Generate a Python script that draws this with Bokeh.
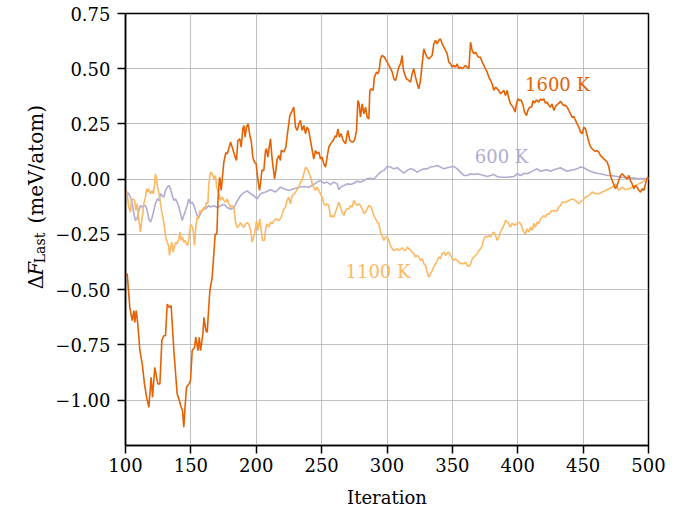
from bokeh.plotting import figure
from bokeh.models import Range1d, FixedTicker, Label
from bokeh.layouts import row
from bokeh.core.properties import value
from bokeh.embed import file_html
from bokeh.resources import INLINE
import math

# ---------------- data ----------------
it_1600 = [100.0, 101.3, 103.3, 105.1, 106.4, 107.1, 108.2, 109.4, 111.0, 112.8, 114.5, 116.1, 117.9, 119.6,
           120.7, 122.4, 124.7, 126.3, 127.8, 129.3, 130.6, 131.9, 133.4, 134.9, 137.0, 139.5, 141.1, 142.6,
           143.6, 144.6, 145.7, 146.7, 148.5, 149.7, 151.0, 152.8, 153.8, 155.4, 156.4, 157.4, 159.2, 160.0,
           161.5, 162.5, 163.5, 164.5, 166.3, 168.6, 169.9, 170.7, 171.7, 172.1, 173.2, 175.2, 176.7, 177.8,
           179.0, 180.3, 181.6, 182.9, 183.9, 184.9, 185.9, 187.4, 188.5, 189.7, 190.5, 191.5, 192.5, 193.8,
           195.1, 196.1, 197.4, 198.7, 199.9, 200.7, 201.7, 202.5, 203.2, 204.3, 205.8, 207.1, 207.8, 208.9,
           209.9, 210.9, 211.9, 212.9, 214.0, 215.0, 216.0, 217.3, 218.5, 219.1, 221.1, 222.6, 224.2, 225.7,
           227.5, 228.7, 230.0, 231.3, 232.6, 233.8, 235.1, 236.4, 237.7, 238.9, 240.2, 241.5, 242.8, 244.0,
           245.3, 246.6, 247.9, 249.1, 250.4, 251.7, 253.0, 254.2, 255.5, 256.8, 258.8, 260.6, 261.4, 262.4,
           263.7, 264.9, 266.5, 268.3, 270.0, 271.6, 273.4, 275.1, 276.7, 277.7, 278.7, 279.7, 281.0, 282.3,
           283.6, 284.8, 286.1, 286.9, 287.9, 289.4, 290.4, 292.0, 293.0, 294.0, 295.0, 296.3, 298.1, 300.1,
           302.2, 304.0, 305.2, 306.5, 307.8, 309.0, 310.3, 311.6, 312.4, 313.4, 314.9, 316.7, 318.0, 319.2,
           320.5, 321.8, 323.1, 324.3, 325.6, 326.9, 328.2, 329.4, 330.7, 332.0, 333.3, 334.5, 335.8, 337.1,
           338.4, 339.6, 340.9, 342.2, 343.5, 344.7, 346.0, 347.3, 348.6, 349.8, 351.1, 352.4, 353.7, 354.9,
           356.2, 357.5, 358.8, 360.0, 361.3, 362.6, 363.9, 365.1, 366.4, 367.7, 369.0, 370.2, 371.5, 372.8,
           374.1, 375.3, 376.6, 377.9, 379.2, 380.4, 381.7, 383.0, 384.3, 385.5, 386.8, 388.1, 389.4, 390.6,
           391.9, 393.2, 394.5, 396.5, 398.0, 399.0, 400.1, 401.6, 402.6, 404.1, 405.2, 406.7, 407.7, 409.2,
           410.5, 411.8, 412.8, 414.3, 416.1, 417.4, 418.7, 419.9, 421.2, 422.5, 423.8, 425.0, 426.3, 427.6,
           428.9, 430.1, 431.4, 432.7, 434.0, 435.2, 436.5, 437.8, 439.1, 440.3, 441.6, 442.9, 444.2, 445.4,
           446.7, 448.0, 449.3, 450.5, 451.8, 453.1, 454.4, 455.6, 456.9, 458.2, 459.5, 460.7, 462.0, 463.3,
           464.6, 465.8, 467.1, 468.4, 469.7, 470.9, 472.2, 473.5, 474.8, 476.0, 477.3, 478.6, 479.9, 481.1,
           482.4, 483.7, 485.0, 486.2, 487.5, 488.8, 490.1, 491.3, 492.6, 493.9, 495.2, 496.4, 497.7, 499.0,
           500.0]
dF_1600 = [-0.43, -0.429, -0.58, -0.64, -0.595, -0.648, -0.595, -0.655, -0.776, -0.836, -0.926, -0.986, -1.032, -0.896,
           -0.986, -0.851, -0.926, -0.926, -0.73, -0.708, -0.708, -0.565, -0.58, -0.572, -0.776, -0.971, -1.0, -1.032,
           -1.047, -1.122, -1.017, -0.941, -0.926, -0.911, -0.776, -0.76, -0.715, -0.776, -0.715, -0.776, -0.7, -0.625,
           -0.685, -0.693, -0.595, -0.505, -0.444, -0.248, -0.248, -0.098, -0.008, 0.009, -0.051, 0.077, 0.12, 0.115,
           0.138, 0.168, 0.145, 0.12, 0.1, 0.085, 0.175, 0.183, 0.145, 0.228, 0.243, 0.19, 0.236, 0.251,
           0.198, 0.175, 0.1, 0.077, 0.07, 0.025, -0.021, -0.051, -0.021, 0.04, 0.04, 0.13, 0.138, 0.1,
           0.145, 0.183, 0.107, 0.055, 0.002, 0.04, 0.092, 0.107, 0.085, 0.13, 0.123, 0.145, 0.221, 0.288,
           0.311, 0.326, 0.236, 0.221, 0.251, 0.266, 0.221, 0.243, 0.206, 0.236, 0.221, 0.175, 0.13, 0.092,
           0.13, 0.115, 0.123, 0.092, 0.1, 0.07, 0.055, 0.1, 0.145, 0.16, 0.175, 0.198, 0.19, 0.228,
           0.19, 0.206, 0.175, 0.16, 0.221, 0.175, 0.168, 0.175, 0.221, 0.356, 0.341, 0.281, 0.341, 0.296,
           0.326, 0.281, 0.273, 0.402, 0.409, 0.402, 0.462, 0.485, 0.477, 0.492, 0.545, 0.56, 0.552, 0.53,
           0.507, 0.485, 0.454, 0.447, 0.477, 0.507, 0.522, 0.56, 0.5, 0.477, 0.454, 0.447, 0.439, 0.477,
           0.5, 0.462, 0.432, 0.409, 0.447, 0.522, 0.59, 0.568, 0.552, 0.545, 0.552, 0.56, 0.613, 0.628,
           0.613, 0.628, 0.635, 0.613, 0.598, 0.583, 0.568, 0.53, 0.522, 0.507, 0.515, 0.507, 0.522, 0.5,
           0.507, 0.5, 0.507, 0.515, 0.507, 0.5, 0.62, 0.583, 0.568, 0.575, 0.56, 0.552, 0.552, 0.53,
           0.515, 0.5, 0.485, 0.462, 0.447, 0.432, 0.402, 0.417, 0.409, 0.402, 0.387, 0.394, 0.402, 0.379,
           0.402, 0.364, 0.341, 0.326, 0.304, 0.341, 0.364, 0.356, 0.359, 0.334, 0.304, 0.288, 0.311, 0.326,
           0.326, 0.356, 0.344, 0.359, 0.349, 0.364, 0.356, 0.364, 0.344, 0.349, 0.334, 0.326, 0.341, 0.311,
           0.329, 0.338, 0.344, 0.353, 0.341, 0.334, 0.334, 0.326, 0.311, 0.296, 0.281, 0.284, 0.266, 0.251,
           0.236, 0.213, 0.206, 0.236, 0.228, 0.198, 0.168, 0.148, 0.138, 0.130, 0.127, 0.130, 0.123, 0.107,
           0.100, 0.092, 0.085, 0.077, 0.055, 0.017, -0.006, -0.024, -0.043, -0.028, -0.006, 0.017, 0.025, 0.017,
           0.009, 0.002, 0.017, -0.006, -0.021, -0.043, -0.028, -0.036, -0.051, -0.058, -0.043, -0.051, -0.021, 0.006,
           0.01]

it_1100 = [100.0, 101.3, 102.5, 103.8, 104.6, 105.9, 106.9, 107.9, 108.9, 110.2, 111.5, 112.2, 113.3, 114.0,
           115.3, 116.1, 117.1, 117.8, 119.1, 120.4, 121.2, 122.2, 122.9, 123.7, 124.7, 125.7, 126.8, 127.8,
           128.8, 129.8, 130.8, 131.9, 132.9, 133.7, 134.4, 135.4, 136.5, 137.5, 138.5, 139.5, 140.8, 141.6,
           142.6, 143.6, 144.6, 145.6, 146.7, 147.7, 148.7, 149.7, 150.7, 151.8, 152.8, 153.8, 154.8, 155.8,
           156.9, 157.9, 158.9, 159.9, 160.9, 161.9, 163.0, 163.7, 165.0, 166.3, 167.6, 168.9, 169.7, 171.4,
           172.7, 174.0, 175.2, 176.5, 177.8, 179.0, 180.3, 181.6, 182.9, 184.2, 185.5, 186.7, 188.0, 189.3,
           190.6, 192.6, 194.4, 195.7, 196.9, 198.7, 200.2, 201.2, 202.7, 203.8, 204.8, 206.3, 207.3, 208.3,
           209.6, 210.9, 212.2, 213.4, 215.5, 217.3, 219.1, 220.6, 222.4, 223.6, 224.9, 226.2, 227.5, 229.3,
           230.8, 232.6, 233.8, 235.1, 236.4, 237.7, 238.9, 240.2, 241.5, 242.8, 244.0, 245.3, 246.6, 247.9,
           249.1, 250.4, 251.7, 253.0, 254.2, 255.5, 256.8, 258.1, 259.3, 260.6, 261.9, 263.2, 264.4, 265.7,
           267.0, 268.3, 269.5, 270.8, 272.1, 273.4, 274.6, 275.9, 277.2, 278.5, 279.7, 281.0, 282.3, 283.6,
           284.8, 286.1, 287.4, 288.7, 289.9, 291.2, 292.5, 293.8, 295.0, 296.3, 297.6, 298.9, 300.1, 301.4,
           302.7, 304.0, 305.2, 306.5, 307.8, 309.1, 310.3, 311.6, 312.9, 314.2, 315.4, 316.7, 318.0, 319.3,
           320.5, 321.8, 323.1, 324.4, 325.6, 326.9, 328.2, 329.5, 330.7, 332.0, 333.3, 334.6, 335.8, 337.1,
           338.4, 339.7, 340.9, 342.2, 343.5, 344.8, 346.0, 347.3, 348.6, 349.9, 351.1, 352.4, 353.7, 355.0,
           356.2, 357.5, 358.8, 360.1, 361.3, 362.6, 363.9, 365.2, 366.4, 367.7, 369.0, 370.3, 371.5, 372.8,
           374.1, 375.4, 376.6, 377.9, 379.2, 380.5, 381.7, 383.0, 384.3, 385.6, 386.8, 388.1, 389.4, 390.6,
           392.6, 394.4, 395.7, 397.7, 399.5, 401.3, 402.8, 404.6, 405.9, 407.2, 408.4, 409.7, 411.0, 412.3,
           413.5, 414.8, 416.1, 417.4, 418.6, 419.9, 421.2, 422.5, 423.7, 425.0, 426.3, 427.6, 428.8, 430.1,
           431.4, 432.7, 434.0, 435.2, 436.5, 439.1, 441.6, 444.2, 446.7, 449.3, 451.8, 454.4, 456.9, 459.5,
           462.0, 464.6, 467.1, 469.7, 472.2, 474.8, 477.3, 479.9, 482.4, 485.0, 487.5, 490.1, 492.6, 495.2,
           497.7, 500.0]
dF_1100 = [-0.05, -0.066, -0.126, -0.149, -0.096, -0.089, -0.096, -0.141, -0.111, -0.187, -0.239, -0.194, -0.149, -0.111,
           -0.081, -0.043, -0.058, -0.043, -0.066, -0.051, -0.066, -0.028, 0.025, 0.0, -0.043, -0.066, -0.111, -0.149,
           -0.179, -0.217, -0.262, -0.285, -0.3, -0.345, -0.315, -0.285, -0.33, -0.3, -0.285, -0.292, -0.27, -0.239,
           -0.277, -0.262, -0.285, -0.277, -0.292, -0.3, -0.255, -0.209, -0.209, -0.232, -0.3, -0.217, -0.172, -0.179,
           -0.141, -0.149, -0.141, -0.126, -0.134, -0.104, -0.111, -0.021, 0.032, 0.025, 0.002, 0.017, -0.036, -0.066,
           -0.096, -0.081, -0.096, -0.104, -0.089, -0.111, -0.126, -0.119, -0.129, -0.196, -0.218, -0.211, -0.196, -0.211,
           -0.218, -0.196, -0.203, -0.232, -0.285, -0.247, -0.187, -0.232, -0.179, -0.232, -0.277, -0.277, -0.217, -0.202,
           -0.217, -0.194, -0.202, -0.187, -0.179, -0.187, -0.172, -0.141, -0.126, -0.096, -0.081, -0.111, -0.074, -0.066,
           -0.051, -0.036, -0.013, -0.006, 0.025, 0.055, 0.047, 0.032, 0.009, -0.021, -0.036, -0.051, -0.036, -0.051,
           -0.066, -0.081, -0.111, -0.119, -0.111, -0.119, -0.172, -0.164, -0.172, -0.149, -0.126, -0.104, -0.126, -0.149,
           -0.164, -0.141, -0.134, -0.134, -0.119, -0.126, -0.096, -0.111, -0.119, -0.111, -0.119, -0.134, -0.156, -0.149,
           -0.134, -0.119, -0.122, -0.141, -0.164, -0.179, -0.194, -0.202, -0.239, -0.255, -0.277, -0.262, -0.259, -0.277,
           -0.3, -0.315, -0.322, -0.319, -0.315, -0.322, -0.319, -0.31, -0.319, -0.322, -0.307, -0.315, -0.319, -0.33,
           -0.337, -0.352, -0.345, -0.352, -0.368, -0.36, -0.383, -0.39, -0.42, -0.443, -0.428, -0.413, -0.398, -0.383,
           -0.368, -0.352, -0.36, -0.337, -0.33, -0.345, -0.335, -0.33, -0.345, -0.36, -0.368, -0.36, -0.368, -0.375,
           -0.383, -0.38, -0.383, -0.375, -0.39, -0.395, -0.383, -0.36, -0.352, -0.345, -0.337, -0.322, -0.315, -0.3,
           -0.27, -0.259, -0.262, -0.255, -0.262, -0.247, -0.239, -0.255, -0.277, -0.262, -0.239, -0.224, -0.209, -0.187,
           -0.194, -0.217, -0.2, -0.209, -0.2, -0.194, -0.209, -0.24, -0.247, -0.224, -0.24, -0.217, -0.232, -0.2,
           -0.217, -0.194, -0.2, -0.179, -0.172, -0.164, -0.172, -0.156, -0.16, -0.149, -0.141, -0.145, -0.141, -0.145,
           -0.125, -0.119, -0.104, -0.104, -0.104, -0.096, -0.089, -0.096, -0.111, -0.096, -0.081, -0.074, -0.058, -0.066,
           -0.066, -0.058, -0.051, -0.043, -0.036, -0.021, -0.051, -0.036, -0.048, -0.043, -0.036, -0.028, -0.021, -0.013,
           -0.003, 0.005]

it_600 = [100.0, 101.3, 102.5, 103.8, 105.1, 106.4, 107.6, 108.9, 110.2, 111.5, 112.7, 114.0, 115.3, 116.6,
          117.8, 119.1, 120.4, 121.7, 122.9, 124.2, 125.5, 126.8, 128.0, 129.3, 130.6, 131.9, 133.1, 134.4,
          135.7, 137.0, 138.2, 139.5, 140.8, 142.1, 143.3, 144.6, 145.9, 147.2, 148.4, 149.7, 151.0, 152.3,
          153.5, 154.8, 156.1, 157.4, 158.6, 159.9, 161.2, 162.5, 163.7, 165.0, 167.6, 170.2, 172.7, 175.3,
          177.8, 180.4, 182.9, 185.5, 188.0, 190.6, 193.1, 195.7, 198.1, 200.7, 203.2, 207.1, 210.9, 214.7,
          218.5, 221.1, 224.9, 228.7, 232.6, 236.4, 240.2, 244.0, 246.6, 249.1, 251.7, 254.2, 256.8, 259.4,
          261.9, 263.2, 264.5, 267.0, 269.6, 272.1, 274.7, 277.2, 279.8, 282.3, 284.9, 287.4, 289.9, 292.5,
          295.0, 297.6, 300.1, 302.7, 305.2, 307.8, 310.3, 312.9, 315.4, 318.0, 320.5, 323.1, 325.6, 328.2,
          330.7, 333.3, 335.8, 338.4, 340.9, 343.5, 346.0, 348.6, 351.1, 353.7, 356.2, 358.8, 361.3, 363.9,
          366.4, 369.0, 371.5, 374.1, 376.6, 379.2, 381.7, 384.3, 386.8, 389.4, 391.9, 397.0, 399.6, 402.1,
          404.7, 407.2, 409.7, 412.3, 414.8, 417.4, 419.9, 422.5, 425.0, 427.6, 430.1, 432.7, 435.2, 437.8,
          440.3, 442.9, 445.4, 448.0, 450.5, 453.1, 455.6, 458.2, 460.7, 463.3, 465.8, 468.4, 470.9, 473.5,
          476.0, 478.6, 481.1, 483.7, 486.2, 488.8, 491.3, 493.9, 498.5, 500.0]
dF_600 = [-0.06, -0.058, -0.066, -0.081, -0.111, -0.156, -0.187, -0.179, -0.141, -0.119, -0.126, -0.119, -0.119, -0.141,
          -0.179, -0.194, -0.172, -0.141, -0.111, -0.089, -0.096, -0.066, -0.074, -0.081, -0.051, -0.036, -0.028, -0.043,
          -0.074, -0.096, -0.089, -0.104, -0.126, -0.156, -0.187, -0.164, -0.141, -0.119, -0.089, -0.111, -0.104, -0.119,
          -0.141, -0.164, -0.172, -0.156, -0.141, -0.134, -0.134, -0.126, -0.119, -0.126, -0.12, -0.128, -0.12, -0.113,
          -0.128, -0.136, -0.128, -0.098, -0.075, -0.06, -0.053, -0.066, -0.074, -0.089, -0.066, -0.058, -0.048, -0.058,
          -0.036, -0.043, -0.051, -0.043, -0.036, -0.033, -0.036, -0.024, -0.013, -0.006, -0.018, -0.013, -0.024, -0.013,
          -0.021, -0.048, -0.036, -0.028, -0.021, -0.024, -0.018, -0.009, -0.013, -0.006, 0.002, 0.004, 0.0, 0.017,
          0.032, 0.04, 0.058, 0.055, 0.047, 0.052, 0.04, 0.028, 0.04, 0.047, 0.043, 0.032, 0.04, 0.047,
          0.047, 0.055, 0.058, 0.062, 0.055, 0.047, 0.052, 0.055, 0.058, 0.047, 0.032, 0.017, 0.017, 0.025,
          0.021, 0.025, 0.021, 0.017, 0.012, 0.017, 0.021, 0.012, 0.009, 0.009, 0.009, 0.012, 0.025, 0.017,
          0.027, 0.025, 0.032, 0.040, 0.047, 0.036, 0.040, 0.043, 0.036, 0.043, 0.047, 0.052, 0.043, 0.036,
          0.040, 0.043, 0.047, 0.055, 0.052, 0.043, 0.036, 0.030, 0.027, 0.025, 0.021, 0.017, 0.017, 0.015,
          0.012, 0.009, 0.009, 0.006, 0.006, 0.005, 0.003, 0.003, 0.002, 0.0]

series_names = ["600 K", "1100 K", "1600 K"]
series_colors = ["#b2abd2", "#fdb863", "#e66101"]

x_ticks = [100, 150, 200, 250, 300, 350, 400, 450, 500]
y_ticks = [-1.0, -0.75, -0.5, -0.25, 0.0, 0.25, 0.5, 0.75]
y_tick_labels = ["\u22121.00", "\u22120.75", "\u22120.50", "\u22120.25", "0.00", "0.25", "0.50", "0.75"]

# y-axis title, split into its typographic pieces
ylab_texts = ["\u0394", "F", "Last", "(meV/atom)"]
ylab_styles = ["normal", "italic", "normal", "normal"]
ylab_sizes = [20, 20, 14, 20]

# label anchor points (data coords) for the inline series names
label_it = [387.6, 293.1, 430.4]
label_dF = [0.102, -0.417, 0.429]

X0, X1, Y0, Y1 = 100, 500, -1.205, 0.75
FONT = "DejaVu Serif"
FS = "18px"
W, H = 684, 513
LW = 52                      # width of the strip that carries the y title
BL, BR, BT, BB = 125 - LW, 36, 13, 68

p = figure(width=W - LW, height=H, output_backend="svg", toolbar_location=None,
           x_range=Range1d(X0, X1), y_range=Range1d(Y0, Y1),
           min_border_left=BL, min_border_right=BR, min_border_top=BT, min_border_bottom=BB,
           background_fill_color="white", border_fill_color="white")

p.outline_line_color = "black"
p.outline_line_width = 1.5
p.outline_line_alpha = 1.0

for ax in (p.xaxis[0], p.yaxis[0]):
    ax.axis_line_width = 1.5
    ax.major_tick_line_width = 1.5
    ax.major_tick_in = 0
    ax.major_tick_out = 8
    ax.minor_tick_line_color = None
    ax.major_label_text_font = FONT
    ax.major_label_text_font_size = FS
    ax.major_label_text_color = "black"
    ax.axis_label_text_font = FONT
    ax.axis_label_text_font_size = FS
    ax.axis_label_text_font_style = "normal"
    ax.axis_label_text_color = "black"

p.xaxis.ticker = FixedTicker(ticks=x_ticks)
p.yaxis.ticker = FixedTicker(ticks=y_ticks)
p.yaxis.major_label_overrides = {t: l for t, l in zip(y_ticks, y_tick_labels)}
p.xaxis.major_label_standoff = 4
p.yaxis.major_label_standoff = 7
p.xaxis.axis_label = "Iteration"
p.xaxis.axis_label_standoff = 12

p.grid.grid_line_color = "#b0b0b0"
p.grid.grid_line_width = 1
p.grid.grid_line_alpha = 0.8

xs = [it_600, it_1100, it_1600]
ys = [dF_600, dF_1100, dF_1600]
for x, y, c in zip(xs, ys, series_colors):
    p.line(x, y, line_color=c, line_width=1.6)

for name, c, lx, ly in zip(series_names, series_colors, label_it, label_dF):
    p.add_layout(Label(x=lx, y=ly, text=name, text_color=c, text_font=FONT, text_font_size=FS,
                       text_align="center", text_baseline="middle"))

# ---- strip on the left carrying the rotated y title (pixel coordinates) ----
q = figure(width=LW, height=H, output_backend="svg", toolbar_location=None,
           x_range=Range1d(0, LW), y_range=Range1d(0, H),
           min_border_left=0, min_border_right=0, min_border_top=0, min_border_bottom=0,
           background_fill_color="white", border_fill_color="white")
q.axis.visible = False
q.grid.visible = False
q.outline_line_color = None

ylab_widths = [16.0, 15.0, 47.0, 119.0]   # advance of each piece incl. gaps, px
ylab_shift = [0, 0, 4, 0]                  # subscript drop, px
frame_h = H - BT - BB
total = sum(ylab_widths)
y_cursor = BB + frame_h / 2 - total / 2
base_x = 35
for txt, sty, sz, w, sh in zip(ylab_texts, ylab_styles, ylab_sizes, ylab_widths, ylab_shift):
    q.text(x=[base_x + sh], y=[y_cursor], text=[txt], angle=math.pi / 2,
           text_font=value(FONT), text_font_style=sty, text_font_size=f"{sz}px",
           text_color="black", text_align="left", text_baseline="alphabetic")
    y_cursor += w

layout = row(q, p, spacing=0)
open("out.html", "w").write(file_html(layout, INLINE))
